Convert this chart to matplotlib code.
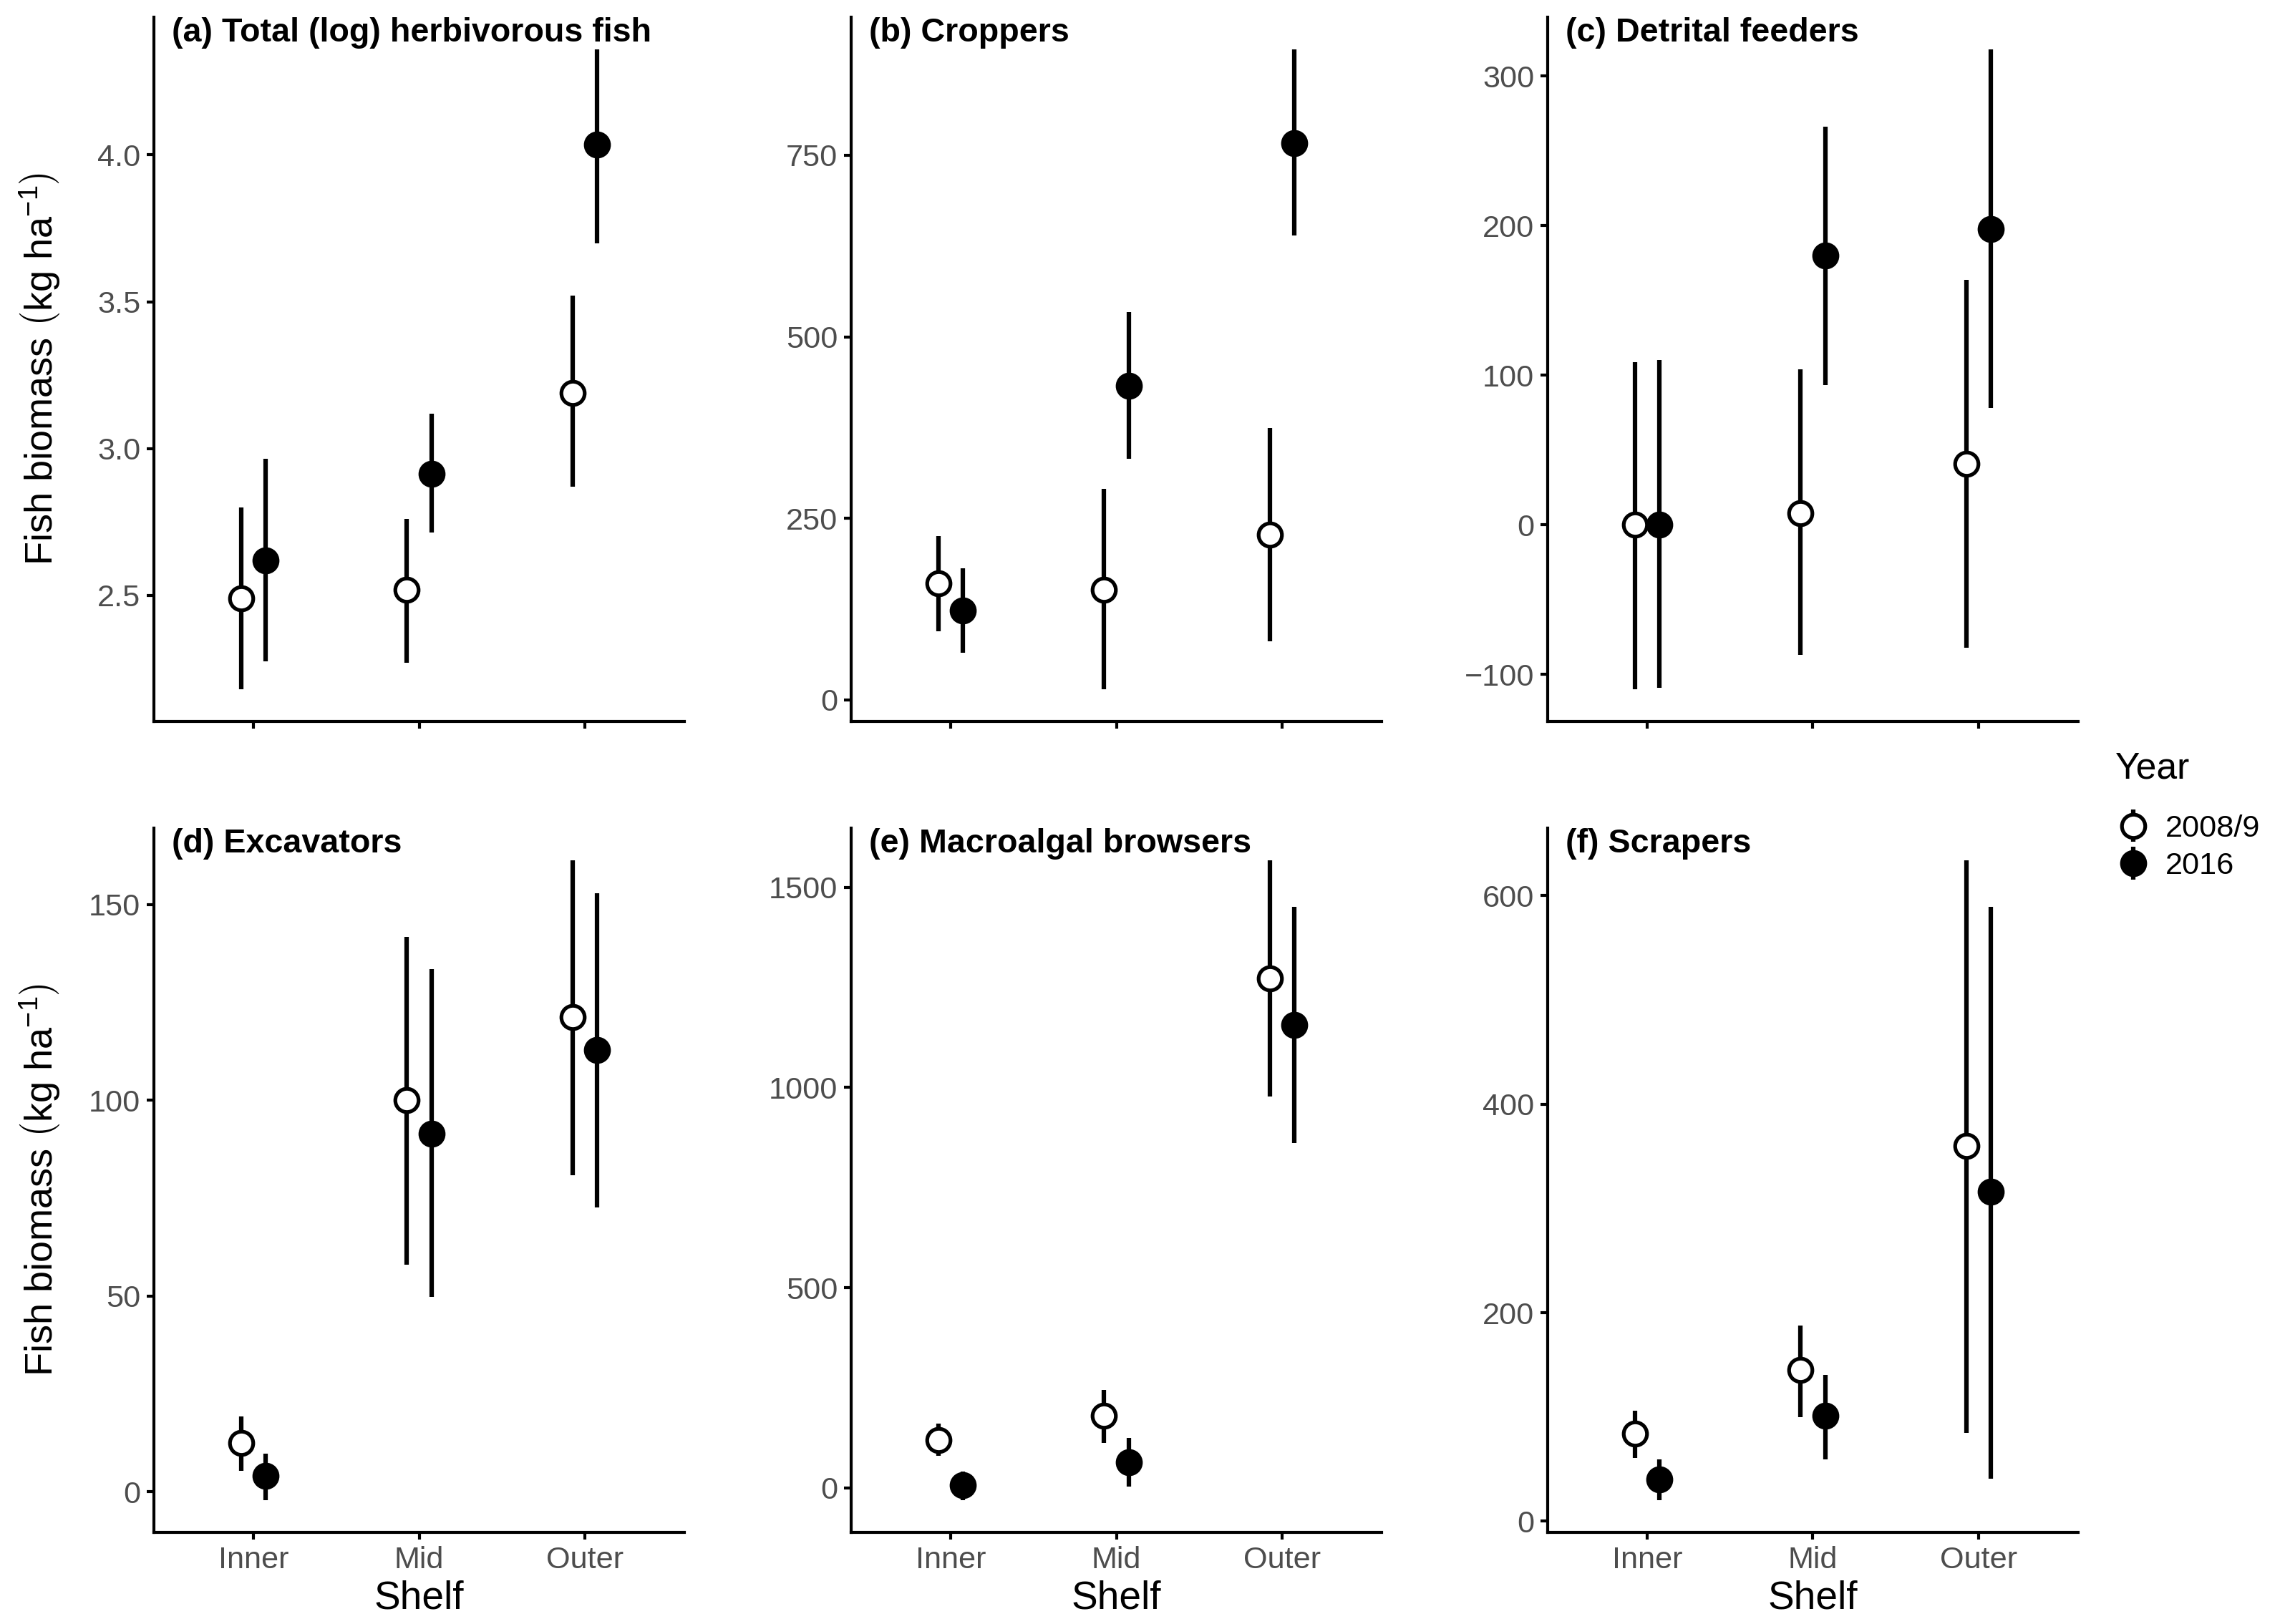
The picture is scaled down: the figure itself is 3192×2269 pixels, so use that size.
import matplotlib
matplotlib.use("Agg")
import matplotlib.pyplot as plt
import numpy as np
from matplotlib.container import ErrorbarContainer
from matplotlib.legend_handler import HandlerErrorbar

plt.rcParams['font.family'] = ['Liberation Sans', 'DejaVu Sans']
plt.rcParams['mathtext.fontset'] = 'custom'
plt.rcParams['mathtext.rm'] = 'Liberation Sans'
plt.rcParams['mathtext.it'] = 'Liberation Sans:italic'
plt.rcParams['mathtext.bf'] = 'Liberation Sans:bold'

# ---------------- data ----------------
shelves = ['Inner', 'Mid', 'Outer']
years = ['2008/9', '2016']

titles = ['(a) Total (log) herbivorous fish', '(b) Croppers', '(c) Detrital feeders',
          '(d) Excavators', '(e) Macroalgal browsers', '(f) Scrapers']

# (a) Total (log) herbivorous fish
a_mean_0809 = [2.49, 2.52, 3.19]
a_lo_0809 = [2.18, 2.27, 2.87]
a_hi_0809 = [2.80, 2.76, 3.52]
a_mean_2016 = [2.62, 2.915, 4.035]
a_lo_2016 = [2.275, 2.715, 3.70]
a_hi_2016 = [2.965, 3.12, 4.36]

# (b) Croppers
b_mean_0809 = [161, 152, 228]
b_lo_0809 = [95, 14.5, 81]
b_hi_0809 = [226, 291, 374]
b_mean_2016 = [123, 433, 767]
b_lo_2016 = [65, 332, 640]
b_hi_2016 = [181, 534, 896]

# (c) Detrital feeders
c_mean_0809 = [0, 8, 41]
c_lo_0809 = [-110, -87, -82]
c_hi_0809 = [109, 104, 164]
c_mean_2016 = [0, 180, 198]
c_lo_2016 = [-109, 93.5, 78]
c_hi_2016 = [110, 266, 318]

# (d) Excavators
d_mean_0809 = [12.4, 100, 121.3]
d_lo_0809 = [5.3, 58, 80.8]
d_hi_0809 = [19.2, 141.7, 161.3]
d_mean_2016 = [4.0, 91.4, 112.8]
d_lo_2016 = [-2.2, 49.7, 72.6]
d_hi_2016 = [9.8, 133.4, 152.9]

# (e) Macroalgal browsers
e_mean_0809 = [120, 180, 1272]
e_lo_0809 = [80, 112, 977]
e_hi_0809 = [160, 245, 1568]
e_mean_2016 = [7, 65, 1156]
e_lo_2016 = [-31, 4, 861]
e_hi_2016 = [41, 125, 1452]

# (f) Scrapers
f_mean_0809 = [84, 145, 360]
f_lo_0809 = [61, 100, 85]
f_hi_0809 = [106, 188, 634]
f_mean_2016 = [40, 101, 316]
f_lo_2016 = [20, 59, 41]
f_hi_2016 = [59, 140, 589]

yticks_list = [[2.5, 3.0, 3.5, 4.0], [0, 250, 500, 750], [-100, 0, 100, 200, 300],
               [0, 50, 100, 150], [0, 500, 1000, 1500], [0, 200, 400, 600]]

panels = [
    ((a_mean_0809, a_lo_0809, a_hi_0809), (a_mean_2016, a_lo_2016, a_hi_2016)),
    ((b_mean_0809, b_lo_0809, b_hi_0809), (b_mean_2016, b_lo_2016, b_hi_2016)),
    ((c_mean_0809, c_lo_0809, c_hi_0809), (c_mean_2016, c_lo_2016, c_hi_2016)),
    ((d_mean_0809, d_lo_0809, d_hi_0809), (d_mean_2016, d_lo_2016, d_hi_2016)),
    ((e_mean_0809, e_lo_0809, e_hi_0809), (e_mean_2016, e_lo_2016, e_hi_2016)),
    ((f_mean_0809, f_lo_0809, f_hi_0809), (f_mean_2016, f_lo_2016, f_hi_2016)),
]

# ---------------- layout ----------------
W, H = 3192, 2269
fig = plt.figure(figsize=(W / 300, H / 300), dpi=300)
col_left = [215, 1189, 2162]
row_top = [24, 1157]
pw, ph = 741, 984

face_colors = ['white', 'black']
dodge = [-0.075, 0.075]
tick_color = '#4D4D4D'
ylab = r'Fish biomass $\left(\mathregular{kg\ ha^{-1}}\right)$'

handles = []
for i, (series, title, yt) in enumerate(zip(panels, titles, yticks_list)):
    r, c = divmod(i, 3)
    ax = fig.add_axes([col_left[c] / W, 1 - (row_top[r] + ph) / H, pw / W, ph / H])
    x = np.arange(1, 4)
    all_lo, all_hi = [], []
    for k, (mean, lo, hi) in enumerate(series):
        mean = np.asarray(mean, float)
        lo = np.asarray(lo, float)
        hi = np.asarray(hi, float)
        all_lo.append(lo.min()); all_hi.append(hi.max())
        cont = ax.errorbar(x + dodge[k], mean, yerr=[mean - lo, hi - mean], fmt='o',
                           color='black', ecolor='black', elinewidth=1.5, capsize=0,
                           ms=7.8, mfc=face_colors[k], mec='black', mew=1.25, zorder=3)
        if i == 0:
            handles.append(cont)
    lo_, hi_ = min(all_lo), max(all_hi)
    pad = 0.05 * (hi_ - lo_)
    ax.set_ylim(lo_ - pad, hi_ + pad)
    ax.set_xlim(0.4, 3.6)
    ax.set_xticks(x)
    ax.set_yticks(yt)
    if i == 0:
        ax.set_yticklabels(['%.1f' % v for v in yt])
    if r == 1:
        ax.set_xticklabels(shelves)
        ax.set_xlabel('Shelf', fontsize=13.2)
        ax.xaxis.set_label_coords(0.5, -(2233 - 2141) / ph)
        ax.xaxis.label.set_va('center')
    else:
        ax.set_xticklabels([])
    if c == 0:
        ax.set_ylabel(ylab, fontsize=13.0)
        ax.yaxis.set_label_coords((57 - 215) / pw, 0.5)
        ax.yaxis.label.set_va('center')
    for s in ['top', 'right']:
        ax.spines[s].set_visible(False)
    for s in ['left', 'bottom']:
        ax.spines[s].set_linewidth(1.0)
    ax.tick_params(direction='out', length=2.3, width=1.0, pad=2.2,
                   labelsize=10.4, labelcolor=tick_color, color='black')
    ax.text(0.034, 1.0, title, transform=ax.transAxes, ha='left', va='top',
            fontsize=11.2, fontweight='bold')

# legend
fig.text(2955 / W, 1 - 1088 / H, 'Year', ha='left', va='baseline', fontsize=12.4)
leg = fig.legend(handles, years, loc='upper left',
                 bbox_to_anchor=(2958 / W, 1 - 1138 / H), frameon=False,
                 fontsize=10.4, handlelength=1.0, handletextpad=0.55, labelspacing=0.28,
                 borderpad=0, borderaxespad=0,
                 handler_map={ErrorbarContainer: HandlerErrorbar(xerr_size=0.5, yerr_size=0.52)})

fig.savefig('out.png', dpi=300)
